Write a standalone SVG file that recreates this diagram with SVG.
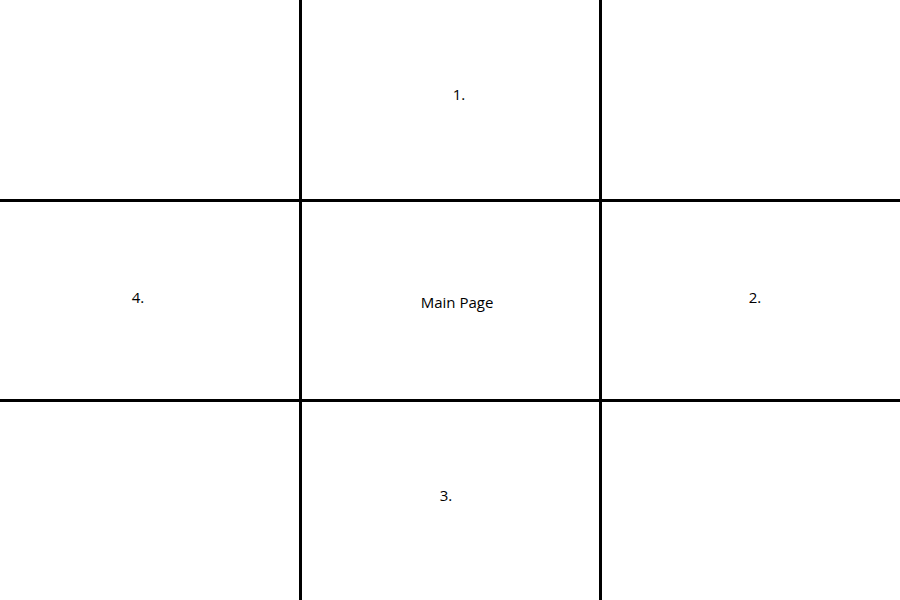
<svg xmlns="http://www.w3.org/2000/svg" width="900" height="600" viewBox="0 0 900 600">
<style>
.ln{stroke:#000;stroke-width:3;fill:none}
.t{font-family:"Open Sans","Liberation Sans",sans-serif;font-size:15px;fill:#000;text-anchor:middle}
</style>
<rect width="900" height="600" fill="#fff"/>
<g id="connectors">
<line class="ln" x1="300.5" y1="0" x2="300.5" y2="600"/>
<line class="ln" x1="600.5" y1="0" x2="600.5" y2="600"/>
<line class="ln" x1="0" y1="200.5" x2="900" y2="200.5"/>
<line class="ln" x1="0" y1="400.5" x2="900" y2="400.5"/>
</g>
<g id="node1"><text class="t" x="459" y="100">1.</text></g>
<g id="node4"><text class="t" x="138" y="303">4.</text></g>
<g id="main"><text class="t" x="457" y="308">Main Page</text></g>
<g id="node2"><text class="t" x="755" y="303">2.</text></g>
<g id="node3"><text class="t" x="446" y="501">3.</text></g>
</svg>
